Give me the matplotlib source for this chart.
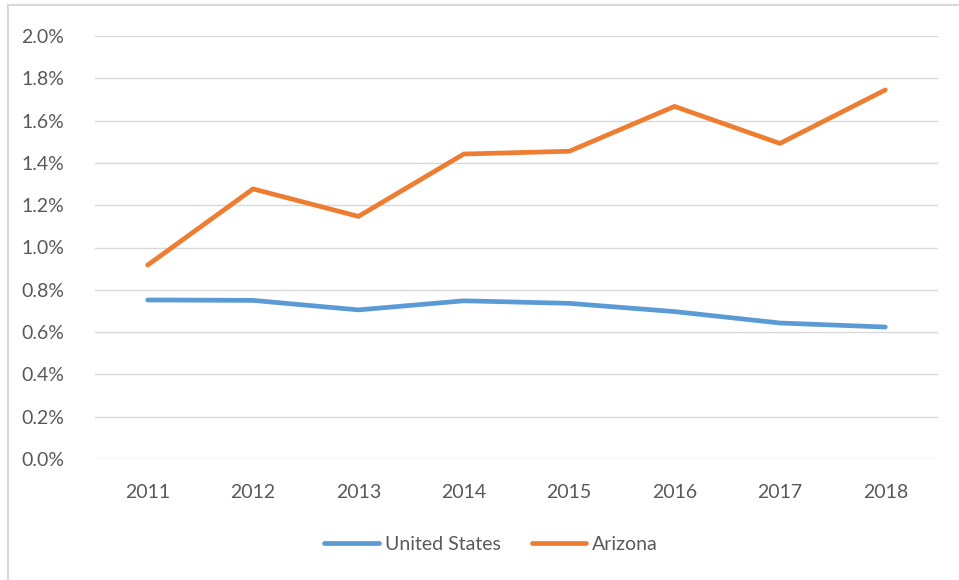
import matplotlib
matplotlib.use("Agg")
import matplotlib.pyplot as plt
from matplotlib.patches import Rectangle
from matplotlib.ticker import FuncFormatter

years = ["2011", "2012", "2013", "2014", "2015", "2016", "2017", "2018"]
us = [0.752, 0.750, 0.705, 0.748, 0.736, 0.697, 0.643, 0.624]
az = [0.917, 1.277, 1.147, 1.442, 1.455, 1.667, 1.492, 1.745]

plt.rcParams['font.family'] = ['Lato', 'DejaVu Sans']
W, H = 959, 580
fig = plt.figure(figsize=(W/100, H/100), dpi=100)
fig.patches.append(Rectangle((8/W, -0.1), 1.0, 1 - 5/H + 0.1, transform=fig.transFigure,
                             fill=False, edgecolor='#D9D9D9', linewidth=1.5))
ax = fig.add_axes([95/W, 1 - 459/H, (938-95)/W, (459-36)/H])
x = list(range(len(years)))
ax.plot(x, us, color='#5B9BD5', lw=3.4, solid_capstyle='round', label='United States')
ax.plot(x, az, color='#ED7D31', lw=3.4, solid_capstyle='round', label='Arizona')
ax.set_xlim(-0.5, 7.5)
ax.set_ylim(0, 2.0)
ax.set_yticks([i*0.2 for i in range(11)])
ax.yaxis.set_major_formatter(FuncFormatter(lambda v, p: f"{v:.1f}%"))
ax.set_xticks(x)
ax.set_xticklabels(years)
ax.grid(axis='y', color='#D9D9D9', lw=1)
ax.set_axisbelow(True)
for s in ax.spines.values():
    s.set_visible(False)
ax.tick_params(length=0, labelsize=14, labelcolor='#595959')
ax.tick_params(axis='y', pad=22)
ax.tick_params(axis='x', pad=18)
leg = fig.legend(loc='center', bbox_to_anchor=(491/W, 1 - 544/H), ncol=2, frameon=False,
                 fontsize=14, handlelength=2.8, columnspacing=1.6, handletextpad=0.3)
for t in leg.get_texts():
    t.set_color('#595959')
fig.savefig('out.png', dpi=100)
